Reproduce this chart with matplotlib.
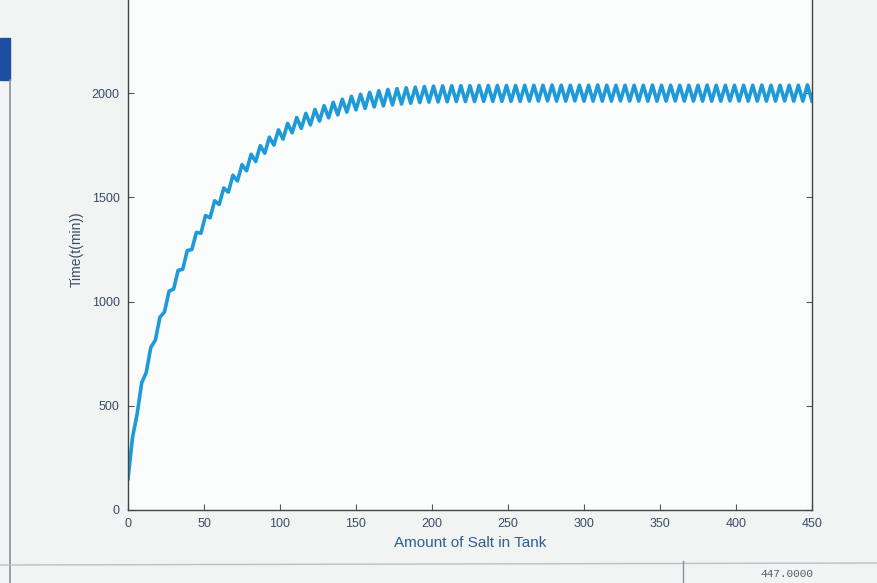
import numpy as np
import matplotlib
matplotlib.use('Agg')
import matplotlib.pyplot as plt
from matplotlib.patches import Rectangle
from matplotlib.lines import Line2D

# sample positions along the x axis (every 3 units, peaks and troughs of the wiggle)
salt_x = np.arange(0, 451, 3)

# values at each sample position
time_y = [150, 350, 460, 610, 660, 780, 815, 925, 950, 1050,
          1060, 1150, 1155, 1245, 1250, 1332, 1328, 1413, 1402, 1484,
          1466, 1545, 1525, 1606, 1579, 1657, 1628, 1707, 1672, 1748,
          1712, 1789, 1751, 1824, 1780, 1855, 1810, 1883, 1831, 1903,
          1848, 1922, 1866, 1940, 1882, 1956, 1896, 1971, 1909, 1985,
          1920, 1995, 1927, 2004, 1934, 2012, 1939, 2018, 1944, 2022,
          1948, 2026, 1952, 2029, 1955, 2032, 1957, 2034, 1958, 2035,
          1959, 2036, 1960, 2036, 1960, 2036, 1960, 2037, 1961, 2037,
          1961, 2037, 1961, 2037, 1961, 2037, 1961, 2038, 1962, 2038,
          1962, 2038, 1963, 2039, 1962, 2038, 1962, 2038, 1963, 2038,
          1962, 2038, 1962, 2039, 1962, 2038, 1962, 2038, 1963, 2038,
          1962, 2038, 1962, 2038, 1962, 2039, 1962, 2038, 1962, 2038,
          1963, 2038, 1962, 2038, 1962, 2038, 1962, 2039, 1962, 2038,
          1962, 2038, 1963, 2038, 1962, 2038, 1962, 2038, 1962, 2039,
          1962, 2038, 1962, 2038, 1963, 2038, 1962, 2038, 1962, 2040,
          1962]

x_ticks = [0, 50, 100, 150, 200, 250, 300, 350, 400, 450]
y_ticks = [0, 500, 1000, 1500, 2000]

plt.rcParams['font.family'] = ['Liberation Sans', 'DejaVu Sans']

W, H = 878, 583
fig = plt.figure(figsize=(W / 100, H / 100), dpi=100)
fig.patch.set_facecolor('#f2f4f4')

# axes: 0 at y=510px, top (2500) runs just off the top of the photo
ax = fig.add_axes([128 / W, 73 / H, (812 - 128) / W, 594 / H - 73 / H])
ax.set_facecolor('#fbfcfc')
ax.plot(salt_x, time_y, color='#1e9ad8', lw=2.6, solid_joinstyle='round')

ax.set_xlim(0, 450)
ax.set_ylim(0, 2500)
ax.set_xticks(x_ticks)
ax.set_yticks(y_ticks)
ax.tick_params(direction='in', length=4, top=True, right=True,
               labelsize=9, labelcolor='#3b4a66', colors='#555555', pad=6)
for s in ax.spines.values():
    s.set_color('#444444')
    s.set_linewidth(1.0)

ax.set_xlabel('Amount of Salt in Tank', fontsize=11, color='#2d5f8f', labelpad=4)
ax.set_ylabel('Time(t(min))', fontsize=10, color='#3b4a66', labelpad=6)

# bits of the MATLAB window around the plot
fig.patches.append(Rectangle((0, 1 - 80 / H), 10 / W, 42 / H, transform=fig.transFigure,
                             color='#1d4fa0', zorder=0))
fig.lines.append(Line2D([10 / W, 10 / W], [0, 1 - 80 / H], transform=fig.transFigure,
                        color='#8a9099', lw=1.2))
fig.lines.append(Line2D([0, 1], [18 / H, 20 / H], transform=fig.transFigure,
                        color='#b8c2c8', lw=1.0))
fig.lines.append(Line2D([683 / W, 683 / W], [0, 22 / H], transform=fig.transFigure,
                        color='#8a9099', lw=1.0))
fig.text(760 / W, 6 / H, '447.0000', fontsize=8, color='#555c66',
         family=['Liberation Mono', 'DejaVu Sans Mono'])

fig.savefig('out.png', dpi=100, facecolor=fig.get_facecolor())
